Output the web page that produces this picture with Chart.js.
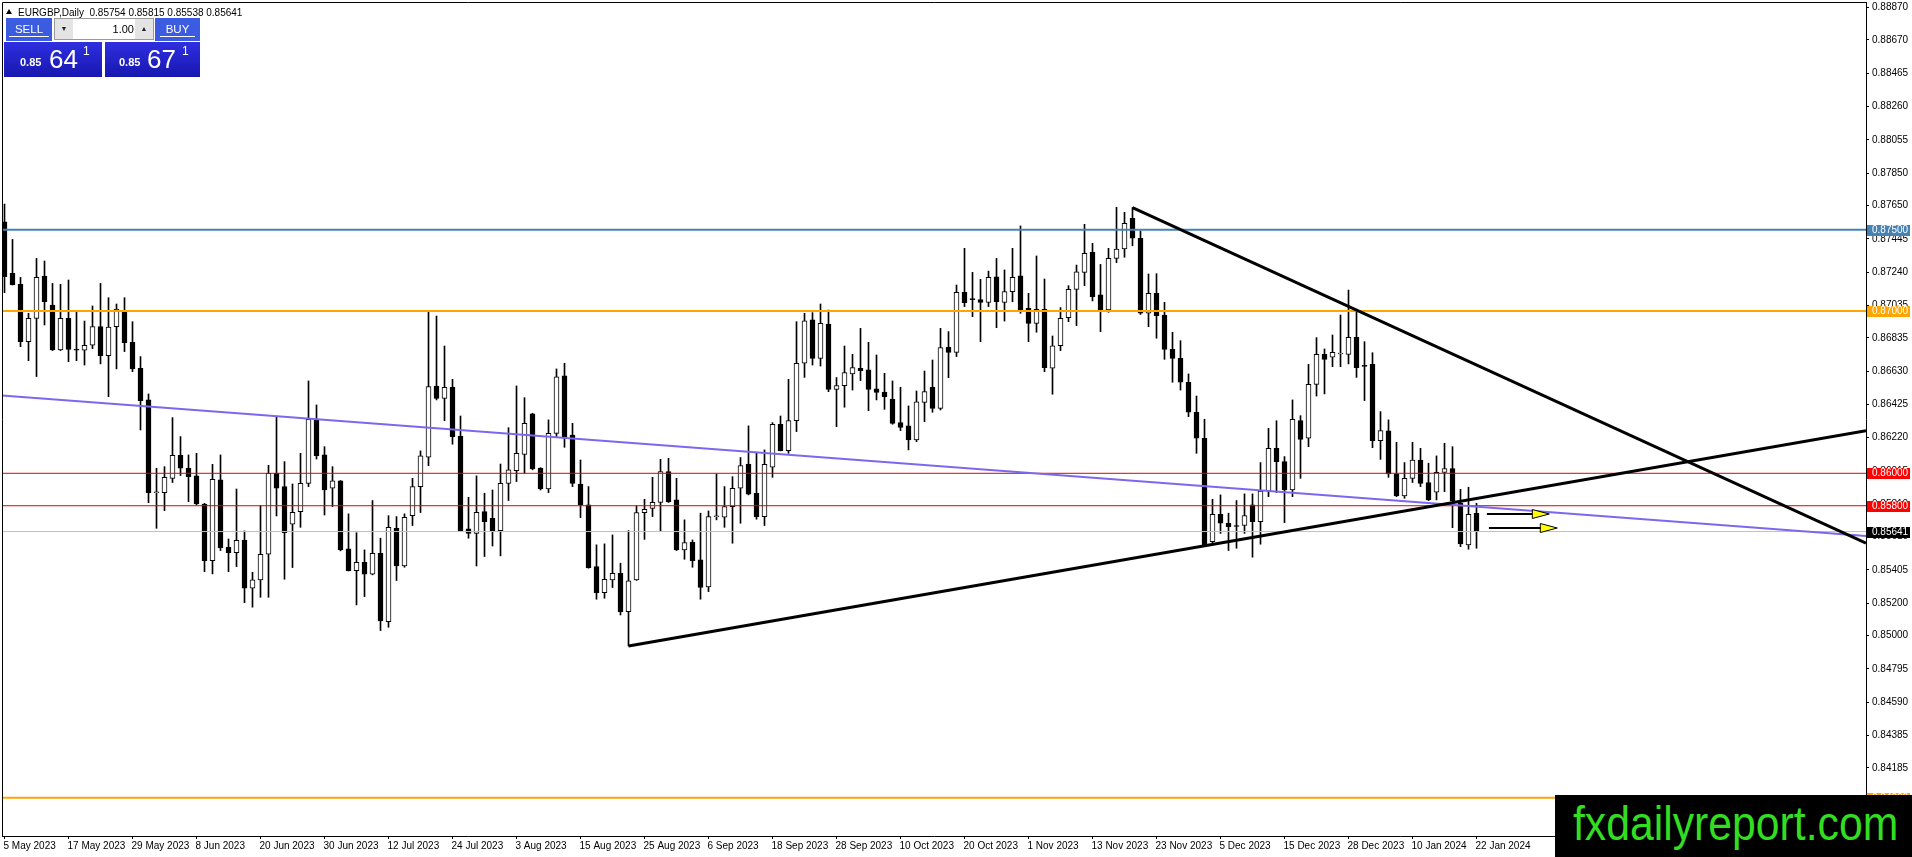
<!DOCTYPE html>
<html><head><meta charset="utf-8">
<script src="https://cdn.jsdelivr.net/npm/chart.js@4.4.1/dist/chart.umd.min.js"></script>
<style>
html,body{margin:0;padding:0;background:#fff;overflow:hidden;}
#wrap{position:relative;width:1912px;height:857px;font-family:"Liberation Sans",Arial,sans-serif;}
canvas{position:absolute;left:0;top:0;}
.abs{position:absolute;}
#hdr{left:18px;top:6px;font-size:10px;line-height:13px;color:#000;white-space:pre;}
#tri{left:6px;top:9px;width:0;height:0;border-left:3px solid transparent;border-right:3px solid transparent;border-bottom:5px solid #000;}
.hbtn{top:18px;height:23px;background:#3b5be0;color:#fff;text-align:center;line-height:22px;font-size:11.5px;}
.hbtn span{border-bottom:1px solid #fff;padding:0 6px 1px 6px;}
#spin{left:54px;top:18px;width:100px;height:22px;background:#fff;border:1px solid #9a9a9a;box-sizing:border-box;}
.sb{top:0;width:18px;height:20px;background:#e4e4e4;font-size:7px;line-height:20px;text-align:center;color:#222;}
#fld{left:19px;top:0;width:60px;height:20px;font-size:11px;line-height:20px;text-align:right;color:#000;}
.big{top:42px;height:35px;background:linear-gradient(#2f2fe0,#1717b0);color:#fff;}
.big .s{position:absolute;font-size:11px;line-height:11px;font-weight:bold;top:15px;}
.big .b{position:absolute;font-size:26px;line-height:26px;top:4px;}
.big .p{position:absolute;font-size:12px;line-height:12px;top:3px;}
#wm{left:1555px;top:795px;width:357px;height:62px;background:#000;overflow:hidden;}
#wm span{position:absolute;left:18px;top:5px;font-size:48px;line-height:48px;color:#33dd22;transform:scaleX(0.89);transform-origin:0 0;white-space:nowrap;}
</style></head><body>
<div id="wrap">
<canvas id="c" width="1912" height="857"></canvas>
<div id="tri" class="abs"></div>
<div id="hdr" class="abs">EURGBP,Daily  0.85754 0.85815 0.85538 0.85641</div>
<div class="abs hbtn" style="left:6px;width:46px;"><span>SELL</span></div>
<div id="spin" class="abs">
  <div class="abs sb" style="left:0;">&#9660;</div>
  <div id="fld" class="abs">1.00</div>
  <div class="abs sb" style="left:80px;">&#9650;</div>
</div>
<div class="abs hbtn" style="left:155px;width:45px;"><span>BUY</span></div>
<div class="abs big" style="left:4px;width:98px;"><span class="s" style="left:16px;">0.85</span><span class="b" style="left:45px;">64</span><span class="p" style="left:79px;">1</span></div>
<div class="abs big" style="left:105px;width:95px;"><span class="s" style="left:14px;">0.85</span><span class="b" style="left:42px;">67</span><span class="p" style="left:77px;">1</span></div>
<div id="wm" class="abs"><span>fxdailyreport.com</span></div>
</div>
<script>
// ---- DATA ----
const dateLabels = ['5 May 2023','17 May 2023','29 May 2023','8 Jun 2023','20 Jun 2023','30 Jun 2023','12 Jul 2023','24 Jul 2023','3 Aug 2023','15 Aug 2023','25 Aug 2023','6 Sep 2023','18 Sep 2023','28 Sep 2023','10 Oct 2023','20 Oct 2023','1 Nov 2023','13 Nov 2023','23 Nov 2023','5 Dec 2023','15 Dec 2023','28 Dec 2023','10 Jan 2024','22 Jan 2024'];
const dateLabelBars = [0,8,16,24,32,40,48,56,64,72,80,88,96,104,112,120,128,136,144,152,160,168,176,184];
const priceTicks = [0.88870,0.88670,0.88465,0.88260,0.88055,0.87850,0.87650,0.87445,0.87240,0.87035,0.86835,0.86630,0.86425,0.86220,0.86015,0.85810,0.85610,0.85405,0.85200,0.85000,0.84795,0.84590,0.84385,0.84185,0.83980];

const open = [
0.87550,0.87232,0.87164,0.86811,0.86955,0.87215,0.87037,0.86760,0.86955,0.86762,
0.86758,0.86789,0.86904,0.86725,0.86904,0.86994,0.86807,0.86647,0.86452,0.85880,
0.85881,0.85969,0.86111,0.86031,0.85984,0.85811,0.85462,0.85959,0.85544,0.85511,
0.85589,0.85292,0.85343,0.85501,0.86000,0.85918,0.85686,0.85764,0.85938,0.86329,
0.86113,0.85908,0.85953,0.85534,0.85400,0.85452,0.85378,0.85507,0.85086,0.85661,
0.85429,0.85739,0.85918,0.86099,0.86538,0.86462,0.86530,0.86230,0.85657,0.85630,
0.85764,0.85723,0.85647,0.85938,0.86016,0.86117,0.86366,0.86031,0.85903,0.86246,
0.86600,0.86236,0.85934,0.85805,0.85425,0.85265,0.85343,0.85384,0.85148,0.85343,
0.85758,0.85784,0.85821,0.86010,0.85836,0.85528,0.85575,0.85466,0.85300,0.85732,
0.85729,0.85795,0.85908,0.86057,0.85877,0.85733,0.86037,0.86302,0.86140,0.86324,
0.86678,0.86945,0.86708,0.86920,0.86517,0.86540,0.86612,0.86647,0.86637,0.86520,
0.86501,0.86458,0.86312,0.86292,0.86205,0.86437,0.86530,0.86400,0.86776,0.86745,
0.87115,0.87072,0.87070,0.87053,0.87211,0.87053,0.87119,0.87216,0.87016,0.86924,
0.87010,0.86647,0.86786,0.86959,0.87133,0.87238,0.87361,0.87099,0.87006,0.87324,
0.87382,0.87571,0.87448,0.86986,0.87109,0.86975,0.86764,0.86708,0.86561,0.86376,
0.86216,0.85579,0.85747,0.85692,0.85676,0.85678,0.85805,0.85702,0.85891,0.86154,
0.86072,0.85897,0.86324,0.86216,0.86548,0.86733,0.86715,0.86735,0.86733,0.86838,
0.86663,0.86671,0.86201,0.86261,0.85996,0.85860,0.85969,0.86082,0.85943,0.85883,
0.86006,0.86029,0.85815,0.85559,0.85754];
const high = [
0.87659,0.87441,0.87207,0.86986,0.87324,0.87308,0.87170,0.87164,0.87191,0.86992,
0.86938,0.87031,0.87170,0.87082,0.87043,0.87082,0.86934,0.86719,0.86489,0.86031,
0.86041,0.86343,0.86226,0.86113,0.86123,0.85815,0.86055,0.86113,0.85595,0.85903,
0.85645,0.85390,0.85801,0.86049,0.86349,0.86072,0.85934,0.86123,0.86569,0.86421,
0.86164,0.86041,0.85955,0.85750,0.85634,0.85528,0.85832,0.85600,0.85739,0.85733,
0.85750,0.85969,0.86138,0.86992,0.86969,0.86784,0.86579,0.86353,0.85852,0.85984,
0.85877,0.85897,0.86057,0.86281,0.86538,0.86466,0.86370,0.86035,0.86329,0.86643,
0.86678,0.86308,0.86082,0.85918,0.85559,0.85565,0.85620,0.85446,0.85647,0.85799,
0.85840,0.85975,0.86086,0.86092,0.85969,0.85713,0.85589,0.85754,0.85768,0.85996,
0.85918,0.85979,0.86097,0.86292,0.86127,0.86144,0.86312,0.86353,0.86579,0.86934,
0.86986,0.86990,0.87043,0.87006,0.86590,0.86784,0.86733,0.86893,0.86807,0.86729,
0.86616,0.86569,0.86530,0.86415,0.86507,0.86630,0.86698,0.86893,0.86873,0.87160,
0.87386,0.87238,0.87195,0.87246,0.87324,0.87253,0.87386,0.87524,0.87109,0.87339,
0.87197,0.86846,0.87021,0.87156,0.87283,0.87534,0.87417,0.87287,0.87386,0.87639,
0.87608,0.87637,0.87493,0.87228,0.87230,0.87053,0.86869,0.86817,0.86612,0.86476,
0.86333,0.85840,0.85867,0.85754,0.85832,0.85873,0.85873,0.86066,0.86277,0.86324,
0.86103,0.86452,0.86355,0.86671,0.86836,0.86766,0.86852,0.86975,0.87129,0.86996,
0.86811,0.86743,0.86380,0.86329,0.86191,0.86066,0.86191,0.86154,0.86062,0.86107,
0.86185,0.86164,0.85901,0.85914,0.85815];
const low = [
0.87113,0.87160,0.86780,0.86694,0.86596,0.86914,0.86756,0.86756,0.86688,0.86694,
0.86667,0.86768,0.86674,0.86472,0.86643,0.86750,0.86626,0.86267,0.85819,0.85661,
0.85770,0.85943,0.85986,0.85825,0.85805,0.85394,0.85380,0.85524,0.85394,0.85425,
0.85203,0.85175,0.85236,0.85236,0.85737,0.85347,0.85419,0.85667,0.85918,0.86088,
0.85743,0.85795,0.85522,0.85398,0.85189,0.85240,0.85374,0.85031,0.85051,0.85339,
0.85421,0.85678,0.85758,0.86047,0.86452,0.86324,0.86179,0.85641,0.85600,0.85429,
0.85487,0.85552,0.85491,0.85832,0.85949,0.86000,0.86021,0.85897,0.85881,0.86226,
0.86160,0.85918,0.85727,0.85415,0.85224,0.85230,0.85296,0.85127,0.84936,0.85340,
0.85593,0.85733,0.85641,0.85820,0.85524,0.85470,0.85421,0.85224,0.85271,0.85713,
0.85667,0.85569,0.85692,0.85867,0.85717,0.85678,0.85975,0.86138,0.86123,0.86257,
0.86591,0.86667,0.86661,0.86503,0.86287,0.86407,0.86513,0.86571,0.86386,0.86452,
0.86394,0.86302,0.86263,0.86144,0.86195,0.86318,0.86376,0.86390,0.86589,0.86719,
0.87027,0.86965,0.86811,0.87027,0.86897,0.86938,0.87057,0.86986,0.86811,0.86869,
0.86626,0.86487,0.86756,0.86934,0.86910,0.87156,0.87062,0.86873,0.86992,0.87298,
0.87331,0.87402,0.86979,0.86903,0.86832,0.86702,0.86561,0.86513,0.86349,0.86123,
0.85548,0.85559,0.85630,0.85524,0.85538,0.85630,0.85483,0.85563,0.85856,0.85881,
0.85696,0.85856,0.85969,0.86164,0.86476,0.86489,0.86657,0.86657,0.86674,0.86591,
0.86448,0.86158,0.86086,0.85975,0.85856,0.85846,0.85943,0.85918,0.85832,0.85836,
0.85887,0.85665,0.85548,0.85532,0.85538];
const close = [
0.87212,0.87162,0.86811,0.86955,0.87207,0.87057,0.86760,0.86955,0.86764,0.86758,
0.86789,0.86904,0.86725,0.86901,0.87012,0.86805,0.86643,0.86448,0.85881,0.85885,
0.85975,0.86111,0.86031,0.85979,0.85811,0.85462,0.85963,0.85542,0.85511,0.85587,
0.85292,0.85343,0.85501,0.86000,0.85908,0.85634,0.85760,0.85938,0.86333,0.86109,
0.85897,0.85953,0.85528,0.85400,0.85452,0.85378,0.85507,0.85090,0.85667,0.85429,
0.85729,0.85918,0.86107,0.86534,0.86462,0.86530,0.86226,0.85647,0.85630,0.85760,
0.85702,0.85647,0.85938,0.86021,0.86123,0.86308,0.86027,0.85903,0.86246,0.86595,
0.86216,0.85938,0.85805,0.85419,0.85265,0.85347,0.85384,0.85148,0.85337,0.85758,
0.85778,0.85821,0.86010,0.85825,0.85528,0.85573,0.85462,0.85296,0.85733,0.85736,
0.85795,0.85908,0.86047,0.85871,0.85733,0.86055,0.86302,0.86140,0.86324,0.86678,
0.86940,0.86708,0.86924,0.86517,0.86540,0.86620,0.86651,0.86632,0.86517,0.86499,
0.86472,0.86308,0.86283,0.86205,0.86441,0.86503,0.86400,0.86774,0.86745,0.87115,
0.87051,0.87070,0.87053,0.87207,0.87057,0.87119,0.87207,0.87006,0.86924,0.87010,
0.86651,0.86786,0.86955,0.87133,0.87242,0.87355,0.87088,0.87006,0.87324,0.87382,
0.87540,0.87448,0.86986,0.87109,0.86971,0.86764,0.86708,0.86561,0.86376,0.86216,
0.85559,0.85747,0.85692,0.85671,0.85672,0.85739,0.85702,0.85891,0.86154,0.86072,
0.85897,0.86333,0.86209,0.86548,0.86733,0.86702,0.86745,0.86739,0.86838,0.86651,
0.86659,0.86201,0.86263,0.85996,0.85860,0.85969,0.86082,0.85938,0.85836,0.86006,
0.86029,0.85830,0.85565,0.85747,0.85641];

// horizontal levels and their price tags
const levelValues = [0.87500, 0.87000, 0.86000, 0.85800, 0.85641, 0.84000];
const levelTags   = ['0.87500','0.87000','0.86000','0.85800','0.85641','0.84000'];
// trend lines: [barIndex, price] anchor pairs
const resistanceLine = [[141, 0.87637], [232.6875, 0.85570]];
const supportLine    = [[78, 0.84936], [232.6875, 0.86262]];
const channelLine    = [[-0.3125, 0.86479], [232.6875, 0.85614]];
// arrows: start bar, end bar, price
const arrowStart = [185.3, 185.55];
const arrowEnd   = [193.1, 194.1];
const arrowPrice = [0.85750, 0.85665];

// ---- STYLE / LAYOUT ----
const X_MIN = -0.3125, X_MAX = 232.6875;
const Y_MIN = 0.83765, Y_MAX = 0.88904;
const levelStyle = [
  {c:'#4682b4', w:2, tag:'#4682b4'},
  {c:'#ffa500', w:2, tag:'#ffa500'},
  {c:'#e00000', w:1, tag:'#ff0000'},
  {c:'#e00000', w:1, tag:'#ff0000'},
  {c:'#c0c0c0', w:1, tag:'#000000'},
  {c:'#ffa500', w:2, tag:'#ffa500'}
];
const FONT = '"Liberation Sans", Arial, sans-serif';
Chart.defaults.font.family = FONT;
Chart.defaults.font.size = 10;
Chart.defaults.color = '#000';

const idx = open.map((_, i) => i);
const datasets = [];
// trend lines (top)
[resistanceLine, supportLine].forEach(l => datasets.push({
  type:'line', data:l.map(p => ({x:p[0], y:p[1]})), borderColor:'#000', borderWidth:3,
  pointRadius:0, fill:false, tension:0, order:0
}));
datasets.push({type:'line', data:channelLine.map(p => ({x:p[0], y:p[1]})), borderColor:'#7b68ee', borderWidth:2, pointRadius:0, fill:false, order:1});
levelValues.forEach((v, k) => datasets.push({
  type:'line', data:[{x:X_MIN, y:v}, {x:X_MAX, y:v}], borderColor:levelStyle[k].c,
  borderWidth:levelStyle[k].w, pointRadius:0, fill:false, order:2
}));
// candle bodies
datasets.push({
  type:'bar', data: idx.map(i => ({x:i, y:[open[i], close[i]]})),
  backgroundColor: idx.map(i => close[i] >= open[i] ? '#ffffff' : '#000000'),
  borderColor:'#000', borderWidth:1, borderSkipped:false, barThickness:5, minBarLength:1,
  grouped:false, order:4
});
// wicks
datasets.push({
  type:'bar', data: idx.map(i => ({x:i, y:[low[i], high[i]]})),
  backgroundColor:'#000', borderWidth:0, barThickness:1, grouped:false, order:5
});

const overlay = {
  id:'overlay',
  afterDatasetsDraw(chart) {
    const ctx = chart.ctx, xs = chart.scales.x, ys = chart.scales.y, a = chart.chartArea;
    ctx.save();
    ctx.beginPath(); ctx.rect(a.left, a.top, a.right - a.left, a.bottom - a.top); ctx.clip();
    arrowStart.forEach((s, k) => {
      const x0 = xs.getPixelForValue(s), x1 = xs.getPixelForValue(arrowEnd[k]);
      const y = Math.round(ys.getPixelForValue(arrowPrice[k]));
      ctx.strokeStyle = '#000'; ctx.lineWidth = 2;
      ctx.beginPath(); ctx.moveTo(x0, y); ctx.lineTo(x1 - 16, y); ctx.stroke();
      ctx.beginPath(); ctx.moveTo(x1 - 17, y - 4.5); ctx.lineTo(x1, y); ctx.lineTo(x1 - 17, y + 4.5); ctx.closePath();
      ctx.fillStyle = '#ffff00'; ctx.fill(); ctx.lineWidth = 1; ctx.stroke();
    });
    ctx.restore();
  },
  afterDraw(chart) {
    const ctx = chart.ctx, ys = chart.scales.y, a = chart.chartArea;
    ctx.save();
    ctx.strokeStyle = '#000'; ctx.lineWidth = 1;
    ctx.beginPath(); ctx.moveTo(a.left + 0.5, a.bottom); ctx.lineTo(a.left + 0.5, a.top + 0.5); ctx.lineTo(a.right, a.top + 0.5); ctx.stroke();
    ctx.font = '10px ' + FONT; ctx.textBaseline = 'middle'; ctx.textAlign = 'left';
    levelValues.forEach((v, k) => {
      const y = Math.round(ys.getPixelForValue(v));
      ctx.fillStyle = levelStyle[k].tag;
      ctx.fillRect(a.right + 1, y - 5, 43, 11);
      ctx.fillStyle = '#fff';
      ctx.fillText(levelTags[k], a.right + 6, y + 0.5);
    });
    ctx.restore();
  }
};

new Chart(document.getElementById('c'), {
  type:'bar',
  data:{ datasets },
  options:{
    responsive:false, animation:false, devicePixelRatio:1, events:[],
    layout:{padding:{left:2, top:2, right:0, bottom:0}},
    plugins:{legend:{display:false}, tooltip:{enabled:false}},
    scales:{
      x:{
        type:'linear', min:X_MIN, max:X_MAX, offset:false,
        afterBuildTicks(s){ s.ticks = dateLabelBars.map(v => ({value:v})); },
        afterFit(s){ s.height = 21; s.paddingLeft = 0; s.paddingRight = 0; },
        ticks:{autoSkip:false, maxRotation:0, minRotation:0, align:'start', padding:1, labelOffset:-1,
          font:{size:10, family:FONT}, color:'#000',
          callback:(v) => dateLabels[dateLabelBars.indexOf(v)]},
        grid:{display:true, drawOnChartArea:false, drawTicks:true, tickLength:3, color:'#000', offset:false},
        border:{display:true, color:'#000', width:1}
      },
      y:{
        type:'linear', position:'right', min:Y_MIN, max:Y_MAX,
        afterBuildTicks(s){ s.ticks = priceTicks.map(v => ({value:v})); },
        afterFit(s){ s.width = 46; s.paddingTop = 0; s.paddingBottom = 0; },
        ticks:{autoSkip:false, padding:3, font:{size:10, family:FONT}, color:'#000',
          callback:(v) => priceTicks.find(t => Math.abs(t - v) < 1e-7).toFixed(5)},
        grid:{display:true, drawOnChartArea:false, drawTicks:true, tickLength:3, color:'#000'},
        border:{display:true, color:'#000', width:1}
      }
    }
  },
  plugins:[overlay]
});
</script>
</body></html>
